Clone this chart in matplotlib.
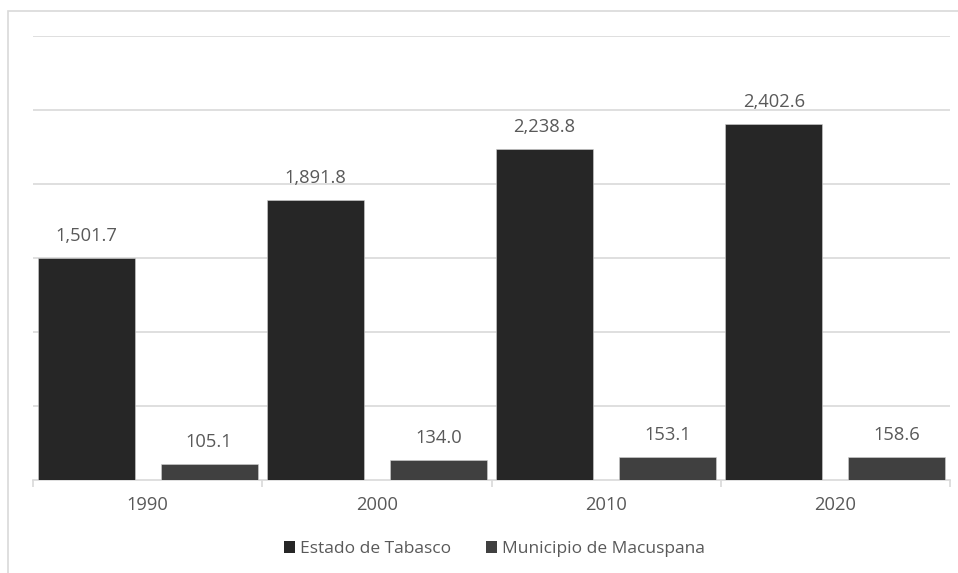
import matplotlib
matplotlib.use("Agg")
import matplotlib.pyplot as plt
from matplotlib.patches import Rectangle, Patch
import numpy as np

years = ["1990", "2000", "2010", "2020"]
tabasco = [1501.7, 1891.8, 2238.8, 2402.6]
macuspana = [105.1, 134.0, 153.1, 158.6]
series_names = ["Estado de Tabasco", "Municipio de Macuspana"]
colors = ["#262626", "#404040"]

W, H = 958, 573
fig = plt.figure(figsize=(W / 100, H / 100), dpi=100)
plt.rcParams['font.family'] = ['Open Sans', 'DejaVu Sans']
txt_color = "#595959"
grid_color = "#d9d9d9"

# outer chart border (cropped on right/bottom)
fig.patches.append(Rectangle((8 / W, -0.1), 1.2, 1 - 11 / H + 0.1, transform=fig.transFigure,
                             fill=False, edgecolor=grid_color, linewidth=1.2))

ax = fig.add_axes([33 / W, (H - 480) / H, (950 - 33) / W, (480 - 36) / H])
x = np.arange(len(years))
width = 0.423
off = 0.268
b1 = ax.bar(x - off, tabasco, width, color=colors[0], edgecolor="#d0d0d0", linewidth=0.4, zorder=3)
b2 = ax.bar(x + off, macuspana, width, color=colors[1], edgecolor="#d0d0d0", linewidth=0.4, zorder=3)

for bars, vals in ((b1, tabasco), (b2, macuspana)):
    for r, v in zip(bars, vals):
        ax.annotate(f"{v:,.1f}", (r.get_x() + r.get_width() / 2, v), xytext=(0, 22),
                    textcoords="offset pixels", ha="center", va="center",
                    fontsize=13.2, color=txt_color)

ax.set_xlim(-0.5, len(years) - 0.5)
ax.set_ylim(0, 3000)
ax.set_yticks(np.arange(500, 3001, 500))
ax.yaxis.grid(True, color=grid_color, linewidth=1.2, zorder=0)
ax.tick_params(axis="y", left=False, labelleft=False)
ax.set_xticks(x)
ax.set_xticklabels(years)
ax.tick_params(axis="x", length=0, pad=11.5, labelsize=13.2, labelcolor=txt_color)
ax.set_xticks(np.arange(-0.5, len(years), 1.0), minor=True)
ax.tick_params(axis="x", which="minor", length=5, color=grid_color, width=1.2)
for s in ("top", "right", "left"):
    ax.spines[s].set_visible(False)
ax.spines["bottom"].set_color(grid_color)
ax.spines["bottom"].set_linewidth(1.2)
ax.set_axisbelow(True)

handles = [Patch(facecolor=c, edgecolor="none") for c in colors]
fig.legend(handles, series_names, loc="center", bbox_to_anchor=(494.5 / W, (H - 549) / H),
           ncol=2, frameon=False, fontsize=12.5, labelcolor=txt_color,
           handlelength=0.62, handleheight=0.62, handletextpad=0.3, columnspacing=2.0)

fig.savefig("out.png", dpi=100)
